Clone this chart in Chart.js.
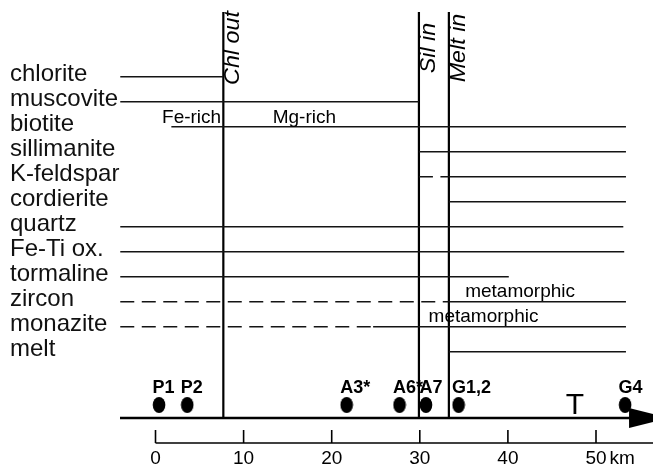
<!DOCTYPE html>
<html>
<head>
<meta charset="utf-8">
<script src="https://cdn.jsdelivr.net/npm/chart.js@4.4.1/dist/chart.umd.min.js"></script>
<style>
  html, body { margin: 0; padding: 0; background: #fff; }
  #wrap { width: 653px; height: 468px; position: relative; }
</style>
</head>
<body>
<div id="wrap"><canvas id="c"></canvas></div>
<script>
// Mineral assemblages along the traverse (distance in km)
const minerals = ['chlorite', 'muscovite', 'biotite', 'sillimanite', 'K-feldspar', 'cordierite',
                  'quartz', 'Fe-Ti ox.', 'tormaline', 'zircon', 'monazite', 'melt'];
// solid stability range of each mineral
const solidFrom = [-4.0, -4.0, 1.8, 29.9, 33.3, 33.3, -4.0, -4.0, -4.0, 33.3, 24.7, 33.3];
const solidTo   = [ 7.7, 29.9, 53.4, 53.4, 53.4, 53.4, 53.1, 53.2, 40.1, 53.4, 53.4, 53.4];
// uncertain / detrital range (dashed)
const dashedFrom = [null, null, null, null, 29.9, null, null, null, null, -4.0, -4.0, null];
const dashedTo   = [null, null, null, null, 33.3, null, null, null, null, 33.3, 24.7, null];

// isograds
const isogradKm = [7.7, 29.9, 33.3];
const isogradNames = ['Chl out', 'Sil in', 'Melt in'];

// samples along the profile
const sampleNames = ['P1', 'P2', 'A3*', 'A6*', 'A7', 'G1,2', 'G4'];
const sampleKm = [0.4, 3.6, 21.7, 27.7, 30.7, 34.4, 53.3];

// distance scale
const kmTicks = [0, 10, 20, 30, 40, 50];

const FONT = "'Liberation Sans', Arial, Helvetica, sans-serif";
const INK = '#141414';

// row scale: mineral rows are 0..11, the sample track sits below them
const rowTop = -2.588;
const rowAxis = 13.652;
const sampleRow = 13.13;

// filled ellipse used as the sample marker
function ellipseMarker() {
  const c = document.createElement('canvas');
  c.width = 14; c.height = 18;
  const g = c.getContext('2d');
  g.fillStyle = '#000';
  g.beginPath();
  g.ellipse(7, 9, 6.3, 8, 0, 0, Math.PI * 2);
  g.fill();
  return c;
}

const datasets = [];
minerals.forEach((m, i) => {
  if (dashedFrom[i] !== null) {
    datasets.push({
      type: 'line',
      data: [{ x: dashedFrom[i], y: i }, { x: dashedTo[i], y: i }],
      borderColor: INK, borderWidth: 1.4, borderDash: [14, 7.5],
      pointRadius: 0, fill: false, tension: 0
    });
  }
  datasets.push({
    type: 'line',
    data: [{ x: solidFrom[i], y: i }, { x: solidTo[i], y: i }],
    borderColor: INK, borderWidth: 1.4,
    pointRadius: 0, fill: false, tension: 0
  });
});
isogradKm.forEach(k => {
  datasets.push({
    type: 'line',
    data: [{ x: k, y: rowTop }, { x: k, y: rowAxis }],
    borderColor: '#000', borderWidth: 2.2,
    pointRadius: 0, fill: false, tension: 0
  });
});
datasets.push({
  type: 'scatter',
  data: sampleKm.map(k => ({ x: k, y: sampleRow })),
  pointStyle: ellipseMarker(),
  pointRadius: 8,
  backgroundColor: '#000', borderColor: '#000'
});

// axis with arrow, distance ticks and text annotations
const overlay = {
  id: 'overlay',
  afterDatasetsDraw(chart) {
    const { ctx, chartArea: a, scales: { x, y } } = chart;
    ctx.save();
    ctx.fillStyle = '#000';
    ctx.strokeStyle = '#000';

    // temperature axis with arrow head
    const axisY = a.bottom;
    const arrowBase = x.getPixelForValue(53.75);
    ctx.lineWidth = 2.6;
    ctx.beginPath();
    ctx.moveTo(a.left, axisY);
    ctx.lineTo(arrowBase + 2, axisY);
    ctx.stroke();
    ctx.beginPath();
    ctx.moveTo(arrowBase, axisY - 10);
    ctx.lineTo(arrowBase + 40, axisY);
    ctx.lineTo(arrowBase, axisY + 10);
    ctx.closePath();
    ctx.fill();

    // "T" label
    ctx.font = '30px ' + FONT;
    ctx.textAlign = 'center';
    ctx.textBaseline = 'alphabetic';
    ctx.fillText('T', x.getPixelForValue(47.6), axisY - 4);

    // distance scale
    const baseY = axisY + 25;
    ctx.lineWidth = 1.3;
    ctx.beginPath();
    ctx.moveTo(x.getPixelForValue(kmTicks[0]), baseY);
    ctx.lineTo(chart.width, baseY);
    ctx.stroke();
    ctx.lineWidth = 1.6;
    ctx.font = '19px ' + FONT;
    kmTicks.forEach((k, i) => {
      const px = x.getPixelForValue(k);
      ctx.beginPath();
      ctx.moveTo(px, baseY);
      ctx.lineTo(px, baseY - 13);
      ctx.stroke();
      ctx.textAlign = 'center';
      const s = String(k);
      ctx.fillText(s, px, baseY + 21);
      if (i === kmTicks.length - 1) {
        ctx.textAlign = 'left';
        ctx.fillText('km', px + ctx.measureText(s).width / 2 + 3, baseY + 21);
      }
    });

    // sample names
    ctx.font = 'bold 18px ' + FONT;
    ctx.textAlign = 'left';
    const sy = y.getPixelForValue(sampleRow) - 12;
    sampleNames.forEach((n, i) => {
      ctx.fillText(n, x.getPixelForValue(sampleKm[i]) - 6.5, sy);
    });

    // biotite composition
    ctx.font = '19px ' + FONT;
    const by = y.getPixelForValue(2) - 4;
    ctx.textAlign = 'right';
    ctx.fillText('Fe-rich', x.getPixelForValue(7.45), by);
    ctx.textAlign = 'left';
    ctx.fillText('Mg-rich', x.getPixelForValue(13.3), by);

    // metamorphic growth of accessory minerals
    ctx.font = '19px ' + FONT;
    ctx.fillText('metamorphic', x.getPixelForValue(35.15), y.getPixelForValue(9) - 5);
    ctx.fillText('metamorphic', x.getPixelForValue(31.0), y.getPixelForValue(10) - 5);

    // isograd names, written upward beside each line
    ctx.font = 'italic 22px ' + FONT;
    ctx.textAlign = 'center';
    isogradKm.forEach((k, i) => {
      ctx.save();
      ctx.translate(x.getPixelForValue(k) + 16, 48);
      ctx.rotate(-Math.PI / 2);
      ctx.scale(1.06, 1);
      ctx.fillText(isogradNames[i], 0, 0);
      ctx.restore();
    });

    ctx.restore();
  }
};

new Chart(document.getElementById('c'), {
  type: 'line',
  data: { datasets },
  options: {
    responsive: true,
    maintainAspectRatio: false,
    animation: false,
    events: [],
    layout: { autoPadding: false, padding: { left: 10, top: 12, right: 0, bottom: 50 } },
    plugins: { legend: { display: false }, tooltip: { enabled: false } },
    scales: {
      x: {
        type: 'linear', min: -4.03, max: 56.47, display: false
      },
      y: {
        type: 'linear', reverse: true, min: rowTop, max: rowAxis,
        position: 'left',
        grid: { display: false },
        border: { display: false },
        afterBuildTicks: s => { s.ticks = minerals.map((_, i) => ({ value: i })); },
        afterFit: s => { s.width = 110; s.paddingTop = 0; s.paddingBottom = 0; },
        ticks: {
          autoSkip: false,
          crossAlign: 'far',
          labelOffset: -2,
          color: '#111',
          font: { family: FONT, size: 24 },
          callback: v => minerals[v]
        }
      }
    }
  },
  plugins: [overlay]
});
</script>
</body>
</html>
